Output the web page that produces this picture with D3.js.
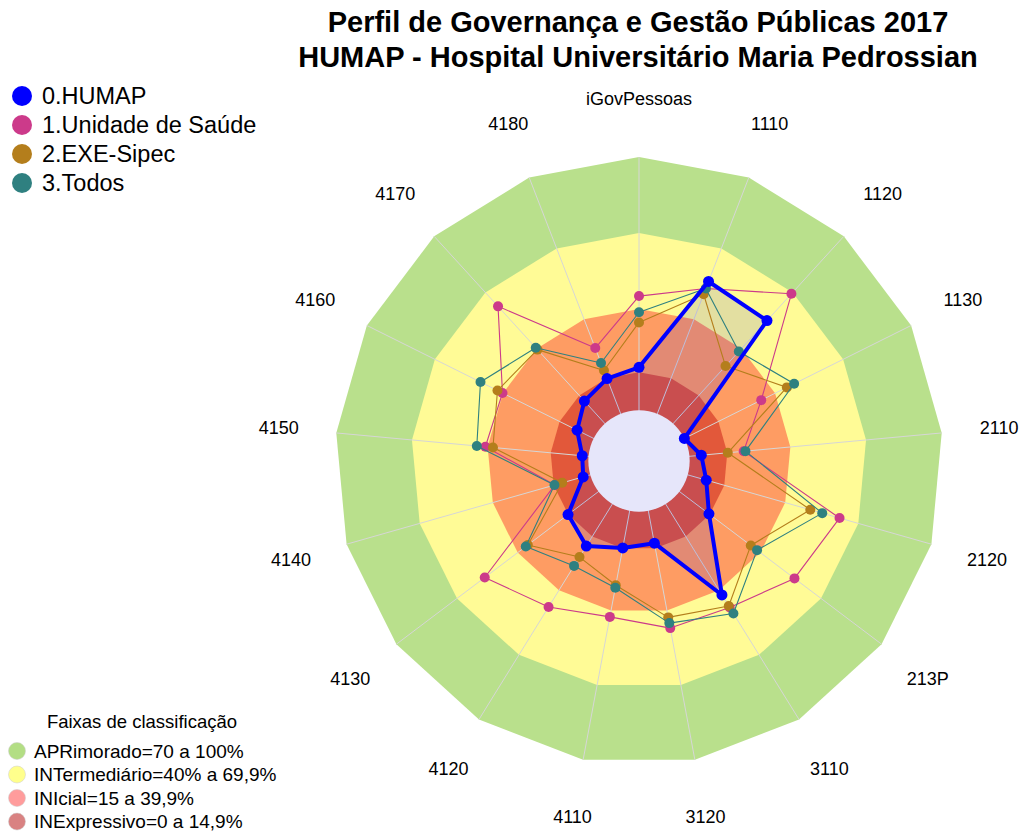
<!DOCTYPE html>
<html>
<head>
<meta charset="utf-8">
<script src="https://cdn.jsdelivr.net/npm/d3@7/dist/d3.min.js"></script>
<style>
body { margin: 0; background: #fff; }
text { font-family: "Liberation Sans", Arial, sans-serif; fill: #000; }
</style>
</head>
<body>
<script>
//place script in anon function
(function(){

// axis labels, clockwise from top
var axisLabels = ["iGovPessoas", "1110", "1120", "1130", "2110", "2120", "213P", "3110", "3120",
    "4110", "4120", "4130", "4140", "4150", "4160", "4170", "4180"];

// series values (% per axis)
var humap        = [17, 56, 55, 0, 4.7, 7.6, 14.6, 42.2, 13, 14.9, 19.5, 15.1, 2.9, 2.5, 7.3, 12, 14.9];
var unidadeSaude = [45.1, 53, 69.3, 33.9, 21.5, 62.3, 56.9, 48, 47.1, 42.6, 47.8, 56.3, 14.5, 40.9, 40.2, 62.6, 27.8];
var exeSipec     = [34.7, 50.6, 30.7, 45.2, 15.2, 50.3, 35.3, 47.3, 42.8, 29.9, 24.6, 35, 11.5, 37.9, 42.4, 39.5, 18.3];
var todos        = [38.7, 53, 38.5, 48.4, 22.2, 55.2, 38.4, 50.8, 45.1, 30.9, 28.7, 36, 14.7, 44.3, 49.9, 40.5, 21.5];

var seriesNames = ["0.HUMAP", "1.Unidade de Saúde", "2.EXE-Sipec", "3.Todos"];
var seriesColors = ["#0000FF", "#CC3A8A", "#B47E1C", "#2F8080"];

// classification bands
var bandNames = ["APRimorado=70 a 100%", "INTermediário=40% a 69,9%", "INIcial=15 a 39,9%", "INExpressivo=0 a 14,9%"];
var bandTops = [100, 70, 40, 15];
var bandColors = ["#B9E08C", "#FFFB96", "#FE9C63", "#E2583A"];
var bandLegendColors = ["#B3DE84", "#FFFF8C", "#FF9C9C", "#D98282"];

var width = 1025,
    height = 831,
    cx = 639,
    cy = 461,
    outerR = 304;

var svg = d3.select("body")
    .append("svg")
    .attr("width", width)
    .attr("height", height);

// radial scale, centre sits below zero
var rScale = d3.scaleLinear()
    .domain([-20, 100])
    .range([0, outerR]);

var angle = function(i){ return i * 2 * Math.PI / axisLabels.length; };

var radar = d3.lineRadial()
    .angle(function(d, i){ return angle(i); })
    .radius(function(d){ return rScale(d); })
    .curve(d3.curveLinearClosed);

var g = svg.append("g")
    .attr("transform", "translate(" + cx + "," + cy + ")");

// background bands
bandTops.forEach(function(top, k){
    g.append("path")
        .attr("d", radar(axisLabels.map(function(){ return top; })))
        .attr("fill", bandColors[k]);
});

// axis lines
g.selectAll(".axis")
    .data(axisLabels)
    .enter()
    .append("line")
    .attr("class", "axis")
    .attr("x1", 0)
    .attr("y1", 0)
    .attr("x2", function(d, i){ return d3.pointRadial(angle(i), outerR)[0]; })
    .attr("y2", function(d, i){ return d3.pointRadial(angle(i), outerR)[1]; })
    .attr("stroke", "#D6D6D6")
    .attr("stroke-width", 1);

// HUMAP translucent fill
g.append("path")
    .attr("d", radar(humap))
    .attr("fill", "#0000FF")
    .attr("fill-opacity", 0.11)
    .attr("stroke", "none");

// centre hole
g.append("circle")
    .attr("r", rScale(0))
    .attr("fill", "#E6E6FA");

// series lines and points (HUMAP last, on top)
var allSeries = [unidadeSaude, exeSipec, todos, humap];
var allColors = [seriesColors[1], seriesColors[2], seriesColors[3], seriesColors[0]];

allSeries.forEach(function(vals, s){
    var isMain = (s == 3);
    g.append("path")
        .attr("d", radar(vals))
        .attr("fill", "none")
        .attr("stroke", allColors[s])
        .attr("stroke-width", isMain ? 4 : 1.1)
        .attr("stroke-linejoin", "round");

    g.selectAll(".pt" + s)
        .data(vals)
        .enter()
        .append("circle")
        .attr("class", "pt" + s)
        .attr("cx", function(d, i){ return d3.pointRadial(angle(i), rScale(d))[0]; })
        .attr("cy", function(d, i){ return d3.pointRadial(angle(i), rScale(d))[1]; })
        .attr("r", isMain ? 5.5 : 5)
        .attr("fill", allColors[s]);
});

// axis labels
g.selectAll(".axisLabel")
    .data(axisLabels)
    .enter()
    .append("text")
    .attr("class", "axisLabel")
    .attr("x", function(d, i){ return d3.pointRadial(angle(i), outerR * 1.19)[0]; })
    .attr("y", function(d, i){ return d3.pointRadial(angle(i), outerR * 1.19)[1]; })
    .attr("text-anchor", "middle")
    .attr("dominant-baseline", "central")
    .style("font-size", "18px")
    .text(function(d){ return d; });

// title
svg.append("text")
    .attr("x", 638)
    .attr("y", 32)
    .attr("text-anchor", "middle")
    .style("font-size", "29px")
    .style("font-weight", "bold")
    .text("Perfil de Governança e Gestão Públicas 2017");

svg.append("text")
    .attr("x", 638)
    .attr("y", 67)
    .attr("text-anchor", "middle")
    .style("font-size", "29px")
    .style("font-weight", "bold")
    .text("HUMAP - Hospital Universitário Maria Pedrossian");

// series legend
var legend = svg.selectAll(".legend")
    .data(seriesNames)
    .enter()
    .append("g")
    .attr("class", "legend")
    .attr("transform", function(d, i){ return "translate(22," + (96 + i * 29) + ")"; });

legend.append("circle")
    .attr("r", 10)
    .attr("fill", function(d, i){ return seriesColors[i]; });

legend.append("text")
    .attr("x", 20)
    .attr("dominant-baseline", "central")
    .style("font-size", "23.5px")
    .text(function(d){ return d; });

// band legend
svg.append("text")
    .attr("x", 142)
    .attr("y", 721)
    .attr("text-anchor", "middle")
    .attr("dominant-baseline", "central")
    .style("font-size", "18.5px")
    .text("Faixas de classificação");

var bandLegend = svg.selectAll(".bandLegend")
    .data(bandNames)
    .enter()
    .append("g")
    .attr("class", "bandLegend")
    .attr("transform", function(d, i){ return "translate(17," + (751 + i * 23.5) + ")"; });

bandLegend.append("circle")
    .attr("r", 8.5)
    .attr("fill", function(d, i){ return bandLegendColors[i]; })
    .attr("stroke", "#ccc")
    .attr("stroke-width", 0.5);

bandLegend.append("text")
    .attr("x", 17)
    .attr("dominant-baseline", "central")
    .style("font-size", "19px")
    .text(function(d){ return d; });

})();
</script>
</body>
</html>
